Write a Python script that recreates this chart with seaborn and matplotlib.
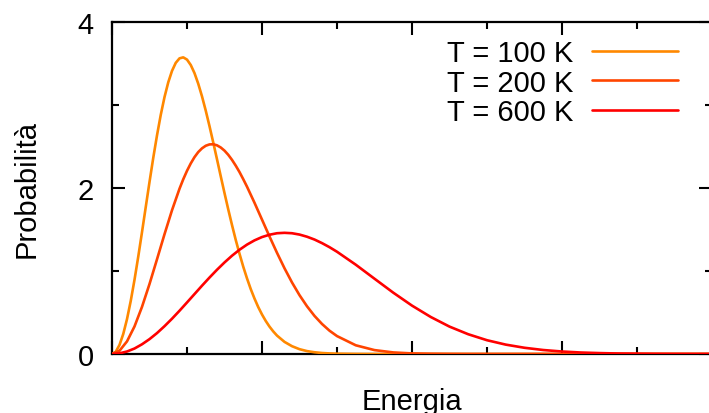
import numpy as np
import matplotlib
matplotlib.use('Agg')
import matplotlib.pyplot as plt
import pandas as pd
import seaborn as sns

# valori
# T = 100 K: curva stretta, letta più fitta
energia_100 = [0.0, 0.05, 0.1, 0.15, 0.2, 0.25, 0.3, 0.35, 0.4, 0.45,
               0.5, 0.55, 0.6, 0.65, 0.7, 0.75, 0.8, 0.85, 0.9, 0.95,
               1.0, 1.05, 1.1, 1.15, 1.2, 1.25, 1.3, 1.35, 1.4, 1.45,
               1.5, 1.55, 1.6, 1.65, 1.7, 1.75, 1.8, 1.85, 1.9, 1.95,
               2.0, 2.05, 2.1, 2.15, 2.2, 2.3, 2.4, 2.5, 2.6, 2.7,
               2.8, 2.9, 3.0, 3.25, 3.5, 8.0]
p_100 = [0.0, 0.027, 0.109, 0.241, 0.420, 0.640, 0.894, 1.173, 1.468, 1.771,
         2.072, 2.363, 2.634, 2.881, 3.095, 3.273, 3.411, 3.508, 3.562, 3.574,
         3.547, 3.482, 3.384, 3.256, 3.104, 2.932, 2.745, 2.548, 2.346, 2.141,
         1.939, 1.742, 1.554, 1.374, 1.208, 1.052, 0.911, 0.782, 0.668, 0.565,
         0.476, 0.398, 0.330, 0.272, 0.222, 0.146, 0.094, 0.058, 0.035, 0.021,
         0.012, 0.007, 0.004, 0.001, 0.0, 0.0]

# T = 200 K
energia_200 = [0.0, 0.1, 0.2, 0.3, 0.4, 0.5, 0.6, 0.7, 0.8, 0.9,
               0.95, 1.0, 1.05, 1.1, 1.15, 1.2, 1.25, 1.3, 1.35, 1.4,
               1.45, 1.5, 1.55, 1.6, 1.65, 1.7, 1.75, 1.8, 1.9,
               2.0, 2.1, 2.2, 2.3, 2.4, 2.5, 2.6, 2.7, 2.8, 2.9, 3.0,
               3.25, 3.5, 3.75, 4.0, 4.25, 4.5, 4.75, 8.0]
p_200 = [0.0, 0.039, 0.152, 0.332, 0.568, 0.843, 1.141, 1.443, 1.732, 1.991,
         2.105, 2.207, 2.296, 2.372, 2.433, 2.478, 2.509, 2.525, 2.527, 2.514,
         2.488, 2.450, 2.400, 2.339, 2.269, 2.192, 2.106, 2.016, 1.822,
         1.619, 1.416, 1.219, 1.033, 0.862, 0.709, 0.575, 0.459, 0.362, 0.281, 0.216,
         0.105, 0.047, 0.019, 0.007, 0.003, 0.001, 0.0, 0.0]

# T = 600 K
energia_600 = [0.0, 0.1, 0.2, 0.3, 0.4, 0.5, 0.6, 0.7, 0.8, 0.9,
               1.0, 1.1, 1.2, 1.3, 1.4, 1.5, 1.6, 1.7, 1.8, 1.9,
               2.0, 2.1, 2.2, 2.3, 2.4, 2.5, 2.6, 2.7, 2.8, 2.9, 3.0,
               3.25, 3.5, 3.75, 4.0, 4.25, 4.5, 4.75, 5.0, 5.25, 5.5,
               5.75, 6.0, 6.25, 6.5, 6.75, 7.0, 7.25, 7.5, 7.75, 8.0]
p_600 = [0.0, 0.008, 0.030, 0.066, 0.117, 0.179, 0.252, 0.335, 0.425, 0.521,
         0.621, 0.722, 0.823, 0.921, 1.015, 1.103, 1.184, 1.256, 1.318, 1.369,
         1.409, 1.437, 1.455, 1.460, 1.455, 1.439, 1.413, 1.379, 1.336, 1.287, 1.232,
         1.076, 0.907, 0.739, 0.583, 0.446, 0.330, 0.238, 0.166, 0.113, 0.075,
         0.048, 0.030, 0.018, 0.011, 0.006, 0.004, 0.002, 0.001, 0.0005, 0.0003]

etichette = ['T = 100 K', 'T = 200 K', 'T = 600 K']
colori = ['#ff8800', '#ff4500', '#ff0000']

df = pd.concat([
    pd.DataFrame({'Energia': e, 'Probabilità': p, 'T': lab})
    for e, p, lab in zip([energia_100, energia_200, energia_600], [p_100, p_200, p_600], etichette)
])

sns.set_style('ticks')
plt.rcParams['font.family'] = ['Liberation Sans', 'DejaVu Sans']
plt.rcParams['font.size'] = 21
plt.rcParams['text.color'] = 'black'
plt.rcParams['xtick.color'] = 'black'
plt.rcParams['ytick.color'] = 'black'

fig = plt.figure(figsize=(7.09, 4.14), dpi=100)
ax = fig.add_axes([112 / 709, 59 / 414, 600 / 709, 332 / 414])

sns.lineplot(data=df, x='Energia', y='Probabilità', hue='T', palette=colori,
             linewidth=1.9, ax=ax, zorder=3, legend=True)

ax.set_xlim(0, 8)
ax.set_ylim(0, 4)
ax.set_xticks([0, 2, 4, 6, 8])
ax.set_xticks([1, 3, 5, 7], minor=True)
ax.set_yticks([0, 2, 4])
ax.set_yticks([1, 3], minor=True)
ax.set_xticklabels([])
ax.tick_params(which='both', direction='in', top=True, right=True, width=1.5,
               color='black', labelcolor='black')
ax.tick_params(which='major', length=9.5, labelsize=21, pad=13)
ax.tick_params(which='minor', length=4.7)
for s in ax.spines.values():
    s.set_linewidth(1.6)
    s.set_color('black')

ax.set_xlabel('')
ax.set_ylabel('')
fig.text(412 / 709, 4 / 414, 'Energia', ha='center', va='baseline', fontsize=21, color='black')
fig.text(35 / 709, 1 - 189 / 414, 'Probabilità', rotation=90, rotation_mode='anchor',
         ha='center', va='baseline', fontsize=21, color='black')

handles, labels = ax.get_legend_handles_labels()
leg = ax.legend(handles, labels, loc='upper right', bbox_to_anchor=((678 - 112) / 600, (355 - 40.5) / 332),
                frameon=False, markerfirst=False, handlelength=2.95, handletextpad=0.65,
                labelspacing=0.04, borderpad=0, borderaxespad=0, fontsize=21)
for t in leg.get_texts():
    t.set_color('black')

fig.savefig('out.png', dpi=100)
